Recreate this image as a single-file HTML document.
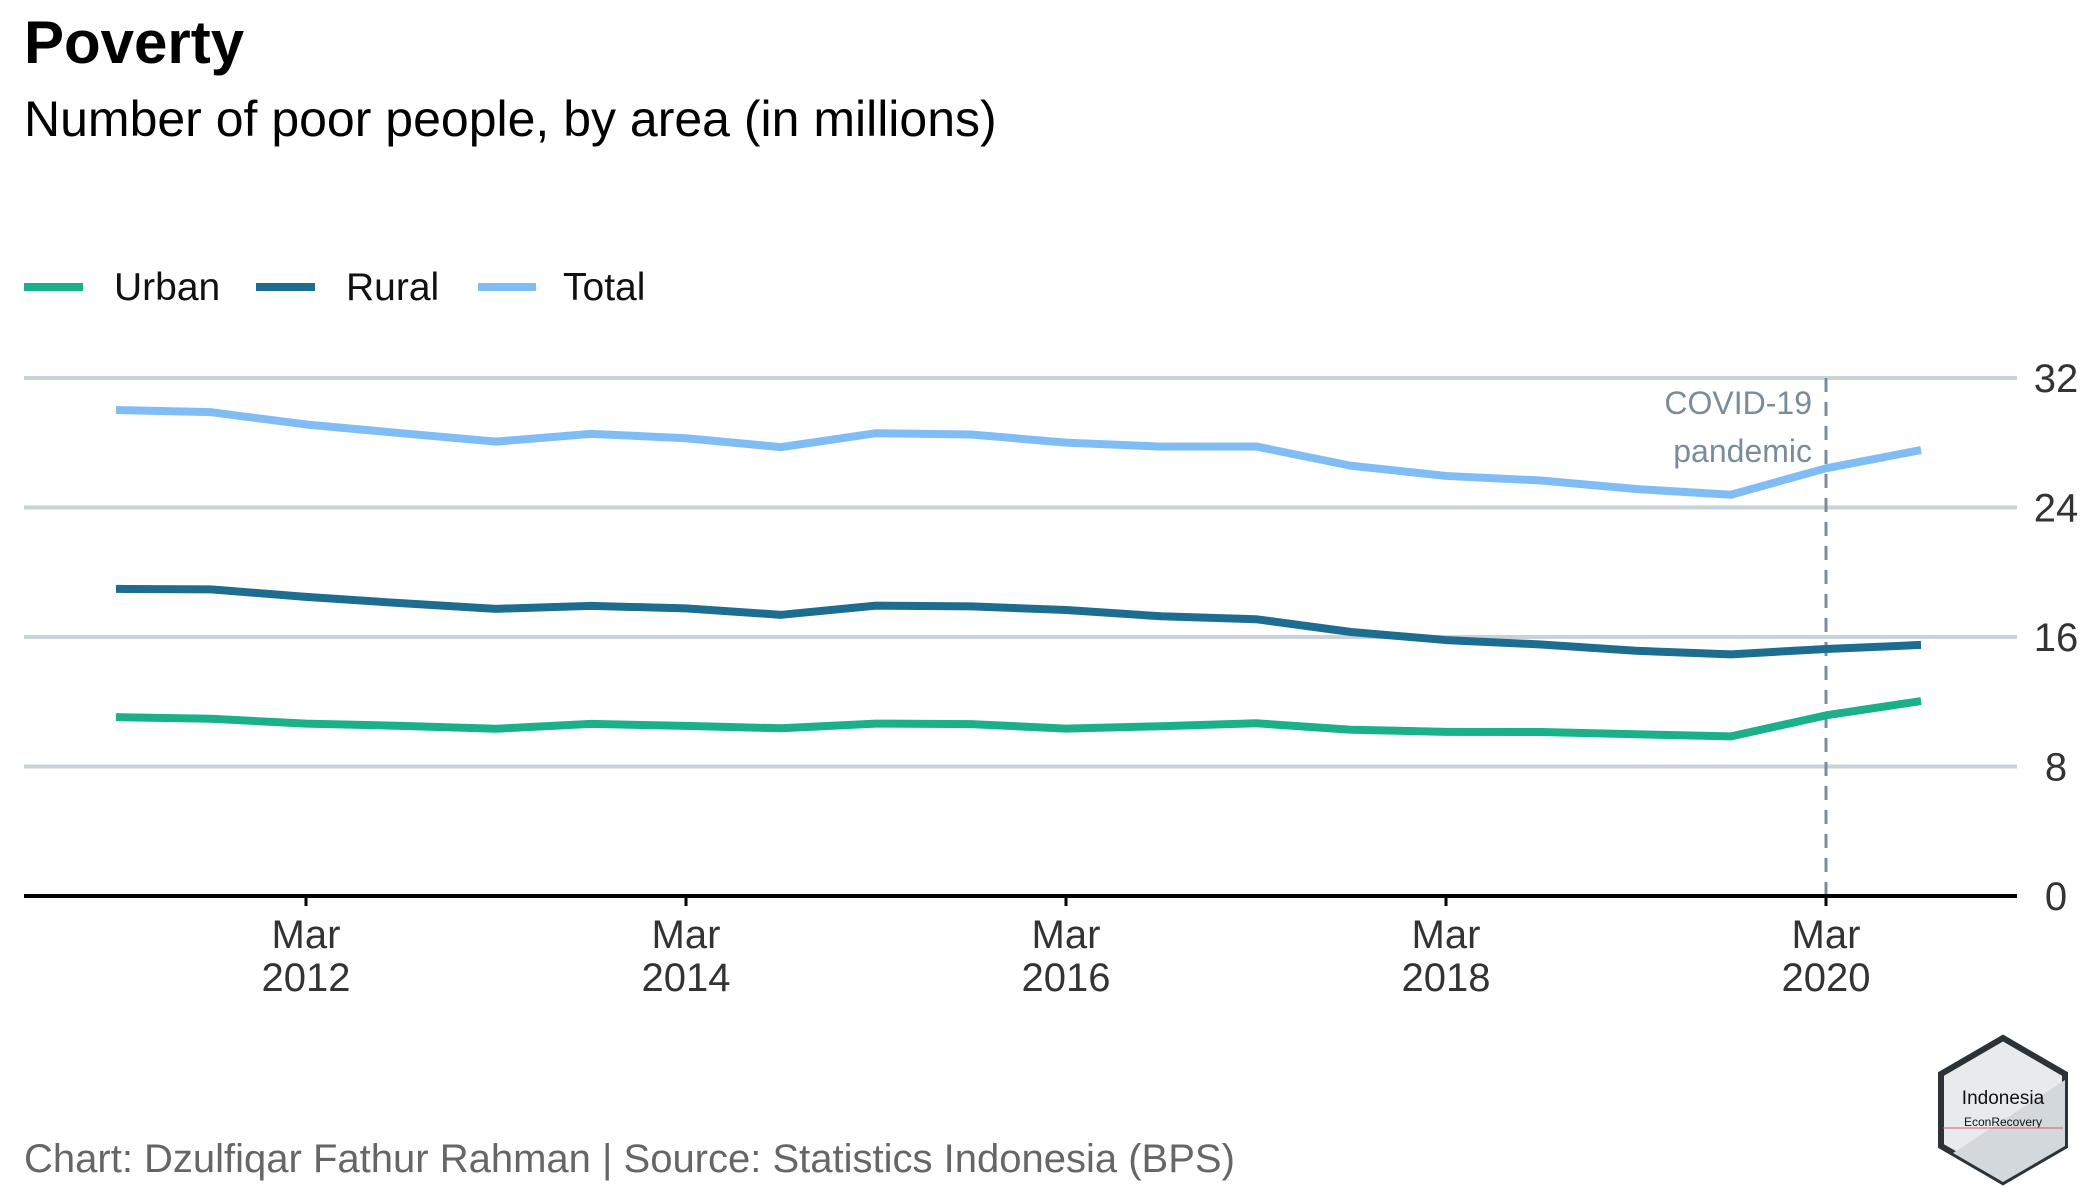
<!DOCTYPE html>
<html><head><meta charset="utf-8"><style>
body{margin:0;background:#fff;}
svg{display:block;font-family:"Liberation Sans",sans-serif;}
</style></head><body>
<svg id="chart" width="2100" height="1200" viewBox="0 0 2100 1200">
<text x="24" y="63" font-size="60" font-weight="bold" fill="#000">Poverty</text>
<text x="24" y="136" font-size="50" fill="#000">Number of poor people, by area (in millions)</text>
<g>
<line x1="24" y1="287" x2="83" y2="287" stroke="#1ab08a" stroke-width="8"/>
<text x="114" y="300" font-size="39" fill="#111">Urban</text>
<line x1="256" y1="287" x2="315" y2="287" stroke="#1d6d91" stroke-width="8"/>
<text x="346" y="300" font-size="39" fill="#111">Rural</text>
<line x1="478" y1="287" x2="536" y2="287" stroke="#80bdf5" stroke-width="8"/>
<text x="563" y="300" font-size="39" fill="#111">Total</text>
</g>
<g id="grid"></g><g id="series"></g><g id="axes"></g>
<text x="24" y="1172" font-size="40" fill="#666">Chart: Dzulfiqar Fathur Rahman | Source: Statistics Indonesia (BPS)</text>
<g transform="translate(2003,1110)">
<polygon points="0,-72 62,-36 62,36 0,72 -62,36 -62,-36" fill="#e8ebee" stroke="#2b3338" stroke-width="6"/>
<polygon points="62,-30 62,36 0,72 -50,43" fill="#d3d8dc"/>
<text x="0" y="-6" font-size="19" text-anchor="middle" fill="#111">Indonesia</text>
<text x="0" y="16" font-size="12" text-anchor="middle" fill="#111">EconRecovery</text>
<line x1="-60" y1="18" x2="60" y2="18" stroke="#e0556a" stroke-width="1"/>
</g>
</svg>
<script>
const dates = ["2011-03","2011-09","2012-03","2012-09","2013-03","2013-09","2014-03","2014-09","2015-03","2015-09","2016-03","2016-09","2017-03","2017-09","2018-03","2018-09","2019-03","2019-09","2020-03","2020-09"];
const urban = [11.05,10.95,10.65,10.51,10.33,10.63,10.51,10.36,10.65,10.62,10.34,10.49,10.67,10.27,10.14,10.13,9.99,9.86,11.16,12.04];
const rural = [18.97,18.94,18.48,18.09,17.74,17.92,17.77,17.37,17.94,17.89,17.67,17.28,17.10,16.31,15.81,15.54,15.15,14.93,15.26,15.51];
const total = [30.02,29.89,29.13,28.59,28.07,28.55,28.28,27.73,28.59,28.51,28.01,27.76,27.77,26.58,25.95,25.67,25.14,24.79,26.42,27.55];
const yTicks = [0,8,16,24,32];
const xTickDates = ["2012-03","2014-03","2016-03","2018-03","2020-03"];
const xTickYears = ["2012","2014","2016","2018","2020"];
const covidDate = "2020-03";

const NS="http://www.w3.org/2000/svg";
function mk(tag,attrs,parent){const e=document.createElementNS(NS,tag);for(const k in attrs)e.setAttribute(k,attrs[k]);parent.appendChild(e);return e;}
function months(d){const [y,m]=d.split("-").map(Number);return y*12+m-1;}
const m0=months("2012-03");
function x(d){return 306+(months(d)-m0)*(380/24);}
function y(v){return 896-v*(518/32);}
const grid=document.getElementById("grid"),series=document.getElementById("series"),axes=document.getElementById("axes");
yTicks.forEach(t=>{
  if(t>0){const l=mk("line",{x1:24,x2:2017,y1:y(t),y2:y(t),stroke:"#c8d2d7","stroke-width":4},grid);
  
  }
  const tx=mk("text",{x:2056,y:y(t)+14,"font-size":40,"text-anchor":"middle",fill:"#333"},axes);tx.textContent=t;
  
  
});
const ax=mk("line",{x1:24,x2:2017,y1:y(0),y2:y(0),stroke:"#000","stroke-width":4},axes);


xTickDates.forEach((d,i)=>{
  const tk=mk("line",{x1:x(d),x2:x(d),y1:y(0),y2:y(0)+10,stroke:"#000","stroke-width":3},axes);
  
  
  const t1=mk("text",{x:x(d),y:948,"font-size":40,"text-anchor":"middle",fill:"#333"},axes);t1.textContent="Mar";
  
  
  const t2=mk("text",{x:x(d),y:991,"font-size":40,"text-anchor":"middle",fill:"#333"},axes);t2.textContent=xTickYears[i];
  
  
});
const cv=mk("line",{x1:x(covidDate),x2:x(covidDate),y1:y(32),y2:y(0),stroke:"#7a8c99","stroke-width":3,"stroke-dasharray":"14,10"},grid);


const a1=mk("text",{x:x(covidDate)-14,y:414,"font-size":32,"text-anchor":"end",fill:"#7a8c99"},grid);a1.textContent="COVID-19";


const a2=mk("text",{x:x(covidDate)-14,y:462,"font-size":32,"text-anchor":"end",fill:"#7a8c99"},grid);a2.textContent="pandemic";


[[urban,"#1ab08a","urban"],[rural,"#1d6d91","rural"],[total,"#80bdf5","total"]].forEach(([vals,c,n])=>{
  const p=mk("polyline",{points:vals.map((v,i)=>x(dates[i])+","+y(v)).join(" "),fill:"none",stroke:c,"stroke-width":8,"stroke-linejoin":"round"},series);
  
  
});
</script>
</body></html>
